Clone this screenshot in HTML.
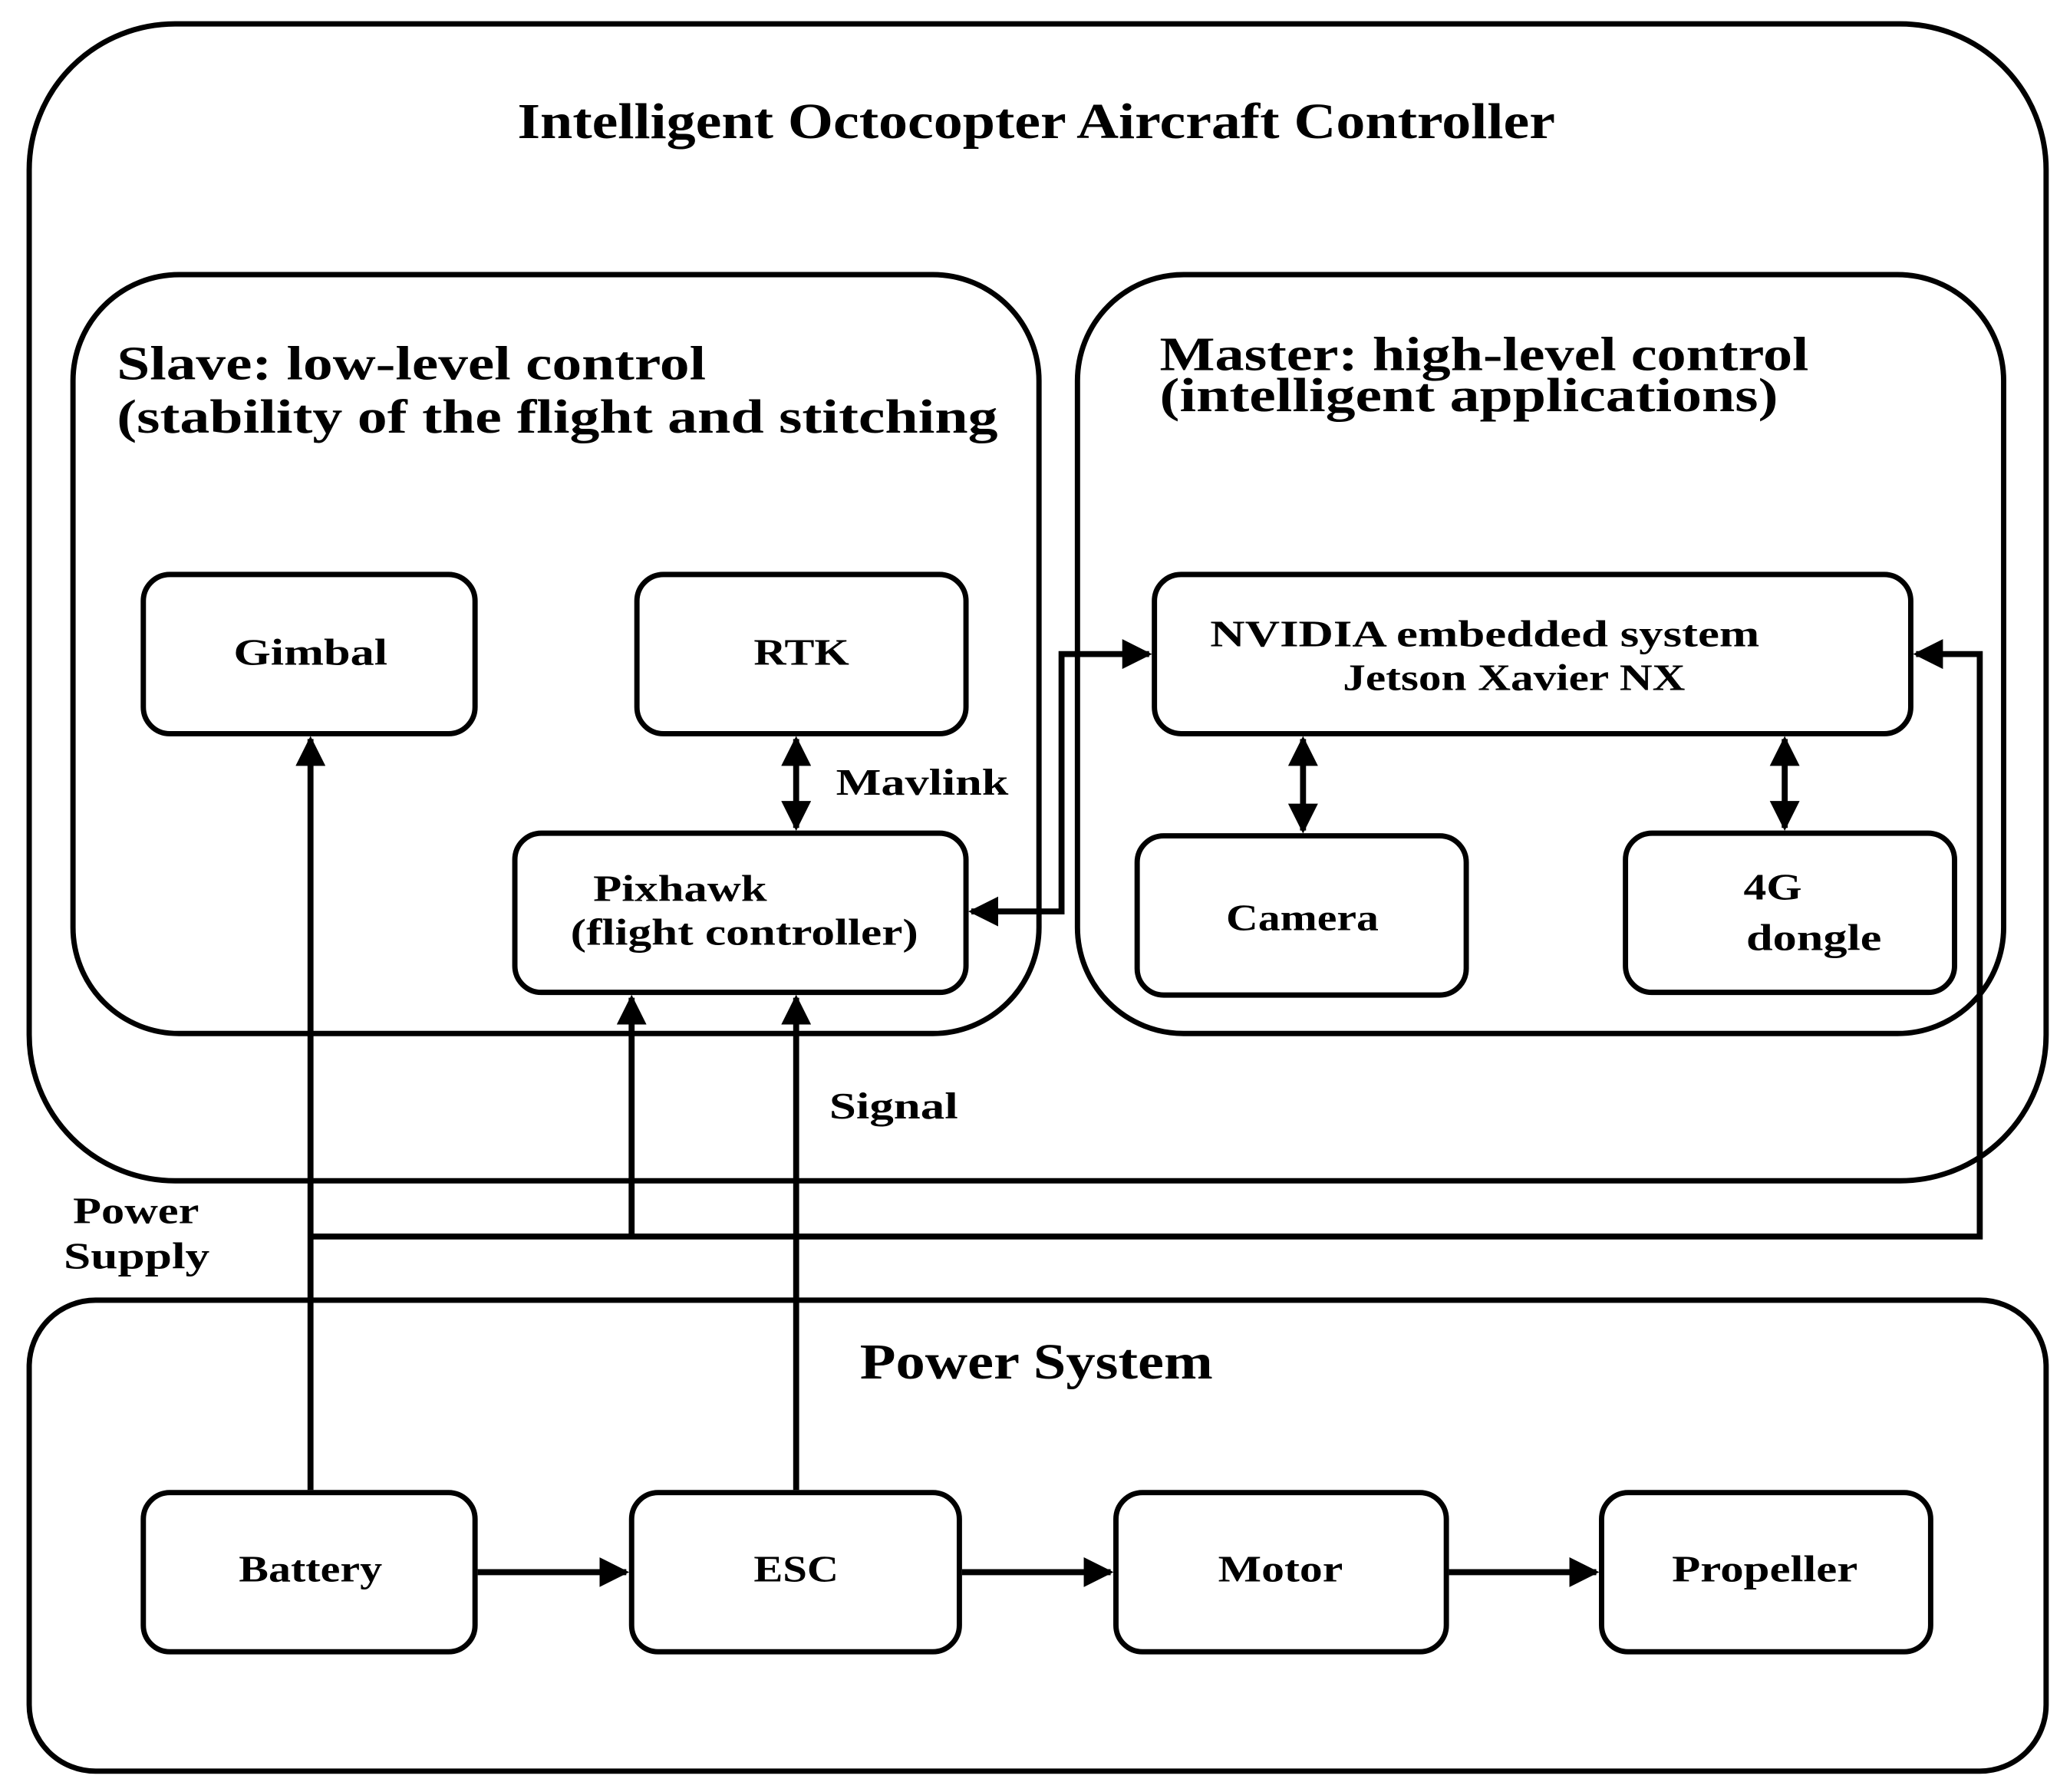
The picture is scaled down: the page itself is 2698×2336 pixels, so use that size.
<!DOCTYPE html>
<html><head><meta charset="utf-8"><style>html,body{margin:0;padding:0;background:#fff}svg{display:block}</style></head>
<body>
<svg width="2698" height="2336" viewBox="0 0 1560 1350.7" xmlns="http://www.w3.org/2000/svg">
<defs>
<marker id="a" viewBox="0 0 10 10" refX="9" refY="5" markerWidth="5" markerHeight="5" orient="auto-start-reverse" markerUnits="strokeWidth"><path d="M0,0 L10,5 L0,10 z" fill="#000"/></marker>
</defs>
<g fill="none" stroke="#000" stroke-width="4">
<rect x="22" y="18" width="1520" height="872" rx="110"/>
<rect x="55" y="207" width="728" height="572" rx="80"/>
<rect x="812" y="207" width="698" height="572" rx="80"/>
<rect x="108" y="433" width="250" height="120" rx="20"/>
<rect x="480" y="433" width="248" height="120" rx="20"/>
<rect x="388" y="628" width="340" height="120" rx="20"/>
<rect x="870" y="433" width="570" height="120" rx="20"/>
<rect x="857" y="630" width="248" height="120" rx="20"/>
<rect x="1225" y="628" width="248" height="120" rx="20"/>
<rect x="22" y="980" width="1520" height="355" rx="50"/>
<rect x="108" y="1125" width="250" height="120" rx="20"/>
<rect x="476" y="1125" width="247" height="120" rx="20"/>
<rect x="841" y="1125" width="249" height="120" rx="20"/>
<rect x="1207" y="1125" width="248" height="120" rx="20"/>
</g>
<g fill="none" stroke="#000" stroke-width="4.5">
<path d="M234,1123 V557" marker-end="url(#a)"/>
<path d="M234,932 H1492 V493 H1444" marker-end="url(#a)"/>
<path d="M476,932 V752" marker-end="url(#a)"/>
<path d="M600,1123 V752" marker-end="url(#a)"/>
<path d="M600,557 V624" marker-start="url(#a)" marker-end="url(#a)"/>
<path d="M982,557 V626" marker-start="url(#a)" marker-end="url(#a)"/>
<path d="M1345,557 V624" marker-start="url(#a)" marker-end="url(#a)"/>
<path d="M732,687 H800 V493 H866" marker-start="url(#a)" marker-end="url(#a)"/>
<path d="M360,1185 H472" marker-end="url(#a)"/>
<path d="M725,1185 H837" marker-end="url(#a)"/>
<path d="M1092,1185 H1203" marker-end="url(#a)"/>
</g>
<g font-family="Liberation Serif, serif" font-weight="bold" fill="#000" lengthAdjust="spacingAndGlyphs">
<text x="390" y="104" font-size="38" textLength="782" lengthAdjust="spacingAndGlyphs">Intelligent Octocopter Aircraft Controller</text>
<text x="88" y="286" font-size="36" textLength="444" lengthAdjust="spacingAndGlyphs">Slave: low-level control</text>
<text x="88" y="326" font-size="36" textLength="664" lengthAdjust="spacingAndGlyphs">(stability of the flight and stitching</text>
<text x="874" y="279" font-size="36" textLength="489" lengthAdjust="spacingAndGlyphs">Master: high-level control</text>
<text x="874" y="310" font-size="36" textLength="466" lengthAdjust="spacingAndGlyphs">(intelligent applications)</text>
<g font-size="28">
<text x="176" y="501" textLength="116" lengthAdjust="spacingAndGlyphs">Gimbal</text>
<text x="568" y="501" textLength="72" lengthAdjust="spacingAndGlyphs">RTK</text>
<text x="447" y="679" textLength="131" lengthAdjust="spacingAndGlyphs">Pixhawk</text>
<text x="430" y="712" textLength="262" lengthAdjust="spacingAndGlyphs">(flight controller)</text>
<text x="912" y="487" textLength="414" lengthAdjust="spacingAndGlyphs">NVIDIA embedded system</text>
<text x="1012" y="520" textLength="258" lengthAdjust="spacingAndGlyphs">Jetson Xavier NX</text>
<text x="924" y="701" textLength="115" lengthAdjust="spacingAndGlyphs">Camera</text>
<text x="1314" y="678" textLength="44" lengthAdjust="spacingAndGlyphs">4G</text>
<text x="1316" y="716" textLength="102" lengthAdjust="spacingAndGlyphs">dongle</text>
<text x="180" y="1192" textLength="108" lengthAdjust="spacingAndGlyphs">Battery</text>
<text x="568" y="1192" textLength="64" lengthAdjust="spacingAndGlyphs">ESC</text>
<text x="918" y="1192" textLength="94" lengthAdjust="spacingAndGlyphs">Motor</text>
<text x="1260" y="1192" textLength="140" lengthAdjust="spacingAndGlyphs">Propeller</text>
<text x="630" y="599" textLength="130" lengthAdjust="spacingAndGlyphs">Mavlink</text>
<text x="625" y="843" textLength="97" lengthAdjust="spacingAndGlyphs">Signal</text>
<text x="55" y="922" textLength="95" lengthAdjust="spacingAndGlyphs">Power</text>
<text x="48" y="956" textLength="110" lengthAdjust="spacingAndGlyphs">Supply</text>
</g>
<text x="648" y="1039" font-size="38" textLength="266" lengthAdjust="spacingAndGlyphs">Power System</text>
</g>
</svg>
</body></html>
